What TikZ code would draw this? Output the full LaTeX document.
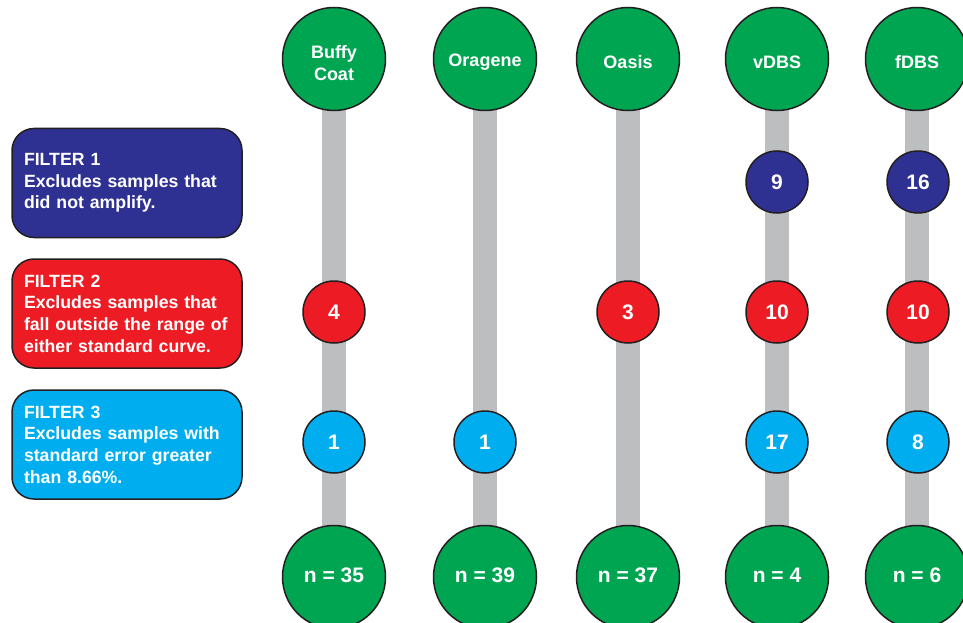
\documentclass[tikz,border=0pt]{standalone}
\usepackage{fontspec}
\setmainfont{Liberation Sans}
\usetikzlibrary{backgrounds}
\definecolor{grn}{HTML}{00A551}
\definecolor{navy}{HTML}{2E3192}
\definecolor{redc}{HTML}{ED1C24}
\definecolor{cyanc}{HTML}{00AEEF}
\definecolor{barc}{HTML}{BCBEC0}
\definecolor{outl}{HTML}{231F20}
\newcommand{\shiftedtext}[2]{\raisebox{#1}[\height][\depth]{#2}}
\begin{document}
\begin{tikzpicture}[x=1pt,y=-1pt,
  bigc/.style={circle, draw=outl, line width=1.5pt, fill=grn, minimum size=103pt, inner sep=0pt,
    text=white, font=\fontsize{18}{21.7}\selectfont\bfseries, align=center},
  botc/.style={bigc, font=\fontsize{21}{24}\selectfont\bfseries},
  smallc/.style={circle, draw=outl, line width=1.5pt, minimum size=62pt, inner sep=0pt,
    text=white, font=\fontsize{21}{24}\selectfont\bfseries},
  fone/.style={smallc, fill=navy},
  ftwo/.style={smallc, fill=redc},
  fthree/.style={smallc, fill=cyanc},
  fbox/.style={rectangle, rounded corners=22pt, draw=outl, line width=1.5pt,
    minimum width=230pt, minimum height=109pt, text width=206pt, inner xsep=12pt,
    align=left, text=white, font=\fontsize{17.7}{21.7}\selectfont\bfseries},
  bar/.style={draw=barc, line width=24pt}
]
\useasboundingbox (0,0) rectangle (963,623);
\clip (0,0) rectangle (963,623);

% top circles
\node[bigc] (t1) at (334,59) {\shiftedtext{-6pt}{\begin{tabular}{@{}c@{}}Buffy\\Coat\end{tabular}}};
\node[bigc] (t2) at (485,59) {\shiftedtext{-3.5pt}{Oragene}};
\node[bigc] (t3) at (628,59) {\shiftedtext{-3pt}{Oasis}};
\node[bigc] (t4) at (777,59) {\shiftedtext{-3pt}{vDBS}};
\node[bigc] (t5) at (917,59) {\shiftedtext{-3pt}{fDBS}};

% bottom circles
\node[botc] (b1) at (334,577) {\shiftedtext{2pt}{n = 35}};
\node[botc] (b2) at (485,577) {\shiftedtext{2pt}{n = 39}};
\node[botc] (b3) at (628,577) {\shiftedtext{2pt}{n = 37}};
\node[botc] (b4) at (777,577) {\shiftedtext{2pt}{n = 4}};
\node[botc] (b5) at (917,577) {\shiftedtext{2pt}{n = 6}};

% filter 1 row
\node[fone] (d1) at (777,182) {9};
\node[fone] (e1) at (918,182) {16};
% filter 2 row
\node[ftwo] (a2) at (334,312) {4};
\node[ftwo] (c2) at (628,312) {3};
\node[ftwo] (d2) at (777,312) {10};
\node[ftwo] (e2) at (918,312) {10};
% filter 3 row
\node[fthree] (a3) at (334,442) {1};
\node[fthree] (b3n) at (485,442) {1};
\node[fthree] (d3) at (777,442) {17};
\node[fthree] (e3) at (918,442) {8};

% filter boxes
\node[fbox, fill=navy] (filt1) at (127,183) {FILTER 1\\Excludes samples that\\did not amplify.};
\node[fbox, fill=redc] (filt2) at (127,313.5) {FILTER 2\\Excludes samples that\\fall outside the range of\\either standard curve.};
\node[fbox, fill=cyanc] (filt3) at (127,444.5) {FILTER 3\\Excludes samples with\\standard error greater\\than 8.66\%.};

\begin{pgfonlayer}{background}
  \draw[bar] (t1.center) -- (b1.center);
  \draw[bar] (t2.center) -- (b2.center);
  \draw[bar] (t3.center) -- (b3.center);
  \draw[bar] (t4.center) -- (b4.center);
  \draw[bar] (t5.center) -- (b5.center);
\end{pgfonlayer}
\end{tikzpicture}
\end{document}
